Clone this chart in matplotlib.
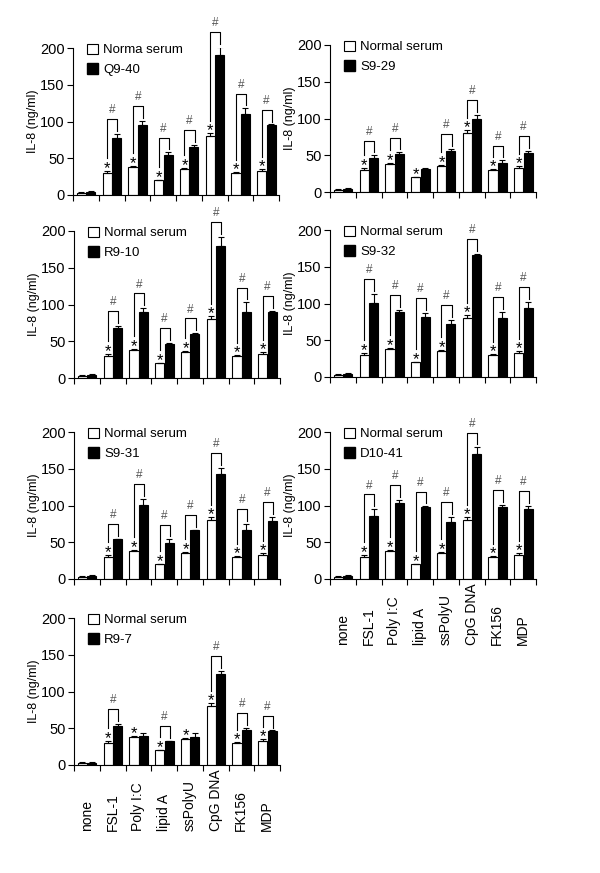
import numpy as np
import matplotlib.pyplot as plt
from matplotlib.patches import Patch

plt.rcParams['font.family'] = ['Liberation Sans', 'DejaVu Sans']

categories = ['none', 'FSL-1', 'Poly I:C', 'lipid A', 'ssPolyU', 'CpG DNA', 'FK156', 'MDP']

# normal serum is the same in every panel
normal = [3, 30, 38, 20, 35, 80, 30, 32]
normal_err = [1, 3, 2, 1, 2, 4, 1, 3]

q9_40 = [4, 78, 95, 55, 65, 190, 110, 95]
q9_40_err = [1, 5, 6, 3, 3, 12, 8, 1]
q9_40_sig = [0, 1, 1, 1, 1, 1, 1, 1]

s9_29 = [4, 46, 52, 31, 56, 99, 40, 53]
s9_29_err = [1, 4, 2, 2, 3, 6, 3, 3]
s9_29_sig = [0, 1, 1, 0, 1, 1, 1, 1]

r9_10 = [4, 68, 90, 46, 60, 180, 90, 90]
r9_10_err = [1, 3, 5, 2, 1, 12, 13, 1]
r9_10_sig = [0, 1, 1, 1, 1, 1, 1, 1]

s9_32 = [4, 101, 88, 82, 72, 166, 80, 94]
s9_32_err = [1, 12, 3, 5, 6, 2, 9, 8]
s9_32_sig = [0, 1, 1, 1, 1, 1, 1, 1]

s9_31 = [4, 54, 101, 49, 66, 143, 67, 79]
s9_31_err = [1, 1, 8, 5, 1, 8, 8, 6]
s9_31_sig = [0, 1, 1, 1, 1, 1, 1, 1]

d10_41 = [4, 86, 104, 98, 77, 170, 98, 95]
d10_41_err = [1, 9, 4, 1, 8, 9, 3, 5]
d10_41_sig = [0, 1, 1, 1, 1, 1, 1, 1]

r9_7 = [3, 53, 39, 32, 38, 124, 48, 46]
r9_7_err = [1, 3, 4, 1, 6, 4, 3, 1]
r9_7_sig = [0, 1, 0, 1, 0, 1, 1, 1]

fig = plt.figure(figsize=(6, 8.73), dpi=100)
W, H = 600, 873


def panel(left, zero_y, name, vals, errs, sig, norm_label='Normal serum', labels=False):
    ax = fig.add_axes([left / W, 1 - zero_y / H, 206 / W, 147 / H])
    x = np.arange(len(categories))
    ekw = dict(capsize=2.5, elinewidth=0.8, capthick=0.8, ecolor='black')
    zeros = np.zeros(len(categories))
    ax.bar(x + 0.33, normal, 0.35, yerr=[zeros, normal_err], color='white',
           edgecolor='black', linewidth=0.8, error_kw=ekw)
    ax.bar(x + 0.69, vals, 0.35, yerr=[zeros, errs], color='black',
           edgecolor='black', linewidth=0.8, error_kw=ekw)

    for i in range(1, len(categories)):
        wtop = normal[i] + normal_err[i]
        btop = vals[i] + errs[i]
        ax.text(i + 0.33, wtop - 3, '*', ha='center', va='baseline', fontsize=12)
        if sig[i]:
            top = btop + 20
            ax.plot([i + 0.33, i + 0.33, i + 0.72, i + 0.72],
                    [wtop + 17, top, top, btop + 4],
                    color='black', lw=0.8, clip_on=False)
            ax.text(i + 0.52, top + 4, '#', ha='center', va='bottom',
                    fontsize=8.5, color='#555555')

    ax.set_xlim(0, 8)
    ax.set_ylim(0, 200)
    ax.set_xticks(range(9))
    ax.set_xticklabels([])
    ax.set_yticks([0, 50, 100, 150, 200])
    ax.tick_params(labelsize=10.5, length=4, width=0.8, pad=2)
    ax.spines['top'].set_visible(False)
    ax.spines['right'].set_visible(False)
    ax.set_ylabel('IL-8 (ng/ml)', fontsize=9, labelpad=1)

    handles = [Patch(facecolor='white', edgecolor='black', linewidth=0.8),
               Patch(facecolor='black', edgecolor='black')]
    ax.legend(handles, [norm_label, name], loc='upper left',
              bbox_to_anchor=(0.07, 1.03), frameon=False, fontsize=9.5,
              handlelength=0.8, handleheight=0.8, handletextpad=0.4,
              labelspacing=0.55, borderpad=0, borderaxespad=0)

    if labels:
        for i, c in enumerate(categories):
            ax.text(i + 0.5, -0.45, c, transform=ax.get_xaxis_transform(),
                    rotation=90, ha='center', va='bottom', fontsize=10)
    return ax


panel(73, 195, 'Q9-40', q9_40, q9_40_err, q9_40_sig, norm_label='Norma serum')
panel(330, 192, 'S9-29', s9_29, s9_29_err, s9_29_sig)
panel(74, 378, 'R9-10', r9_10, r9_10_err, r9_10_sig)
panel(330, 377, 'S9-32', s9_32, s9_32_err, s9_32_sig)
panel(74, 579, 'S9-31', s9_31, s9_31_err, s9_31_sig)
panel(330, 579, 'D10-41', d10_41, d10_41_err, d10_41_sig, labels=True)
panel(74, 765, 'R9-7', r9_7, r9_7_err, r9_7_sig, labels=True)

plt.savefig('out.png', dpi=100)
